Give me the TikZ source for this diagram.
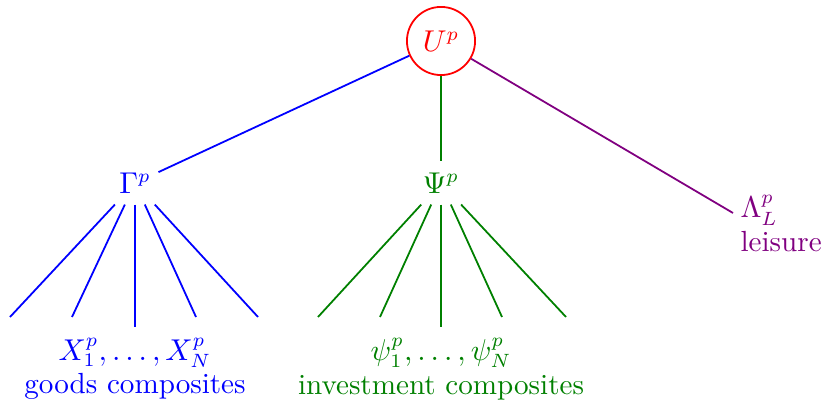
\documentclass[tikz,border=0pt]{standalone}
\usepackage{xcolor}
\definecolor{cblue}{RGB}{0,0,255}
\definecolor{cgreen}{RGB}{0,128,0}
\definecolor{cred}{RGB}{255,0,0}
\definecolor{cpurple}{RGB}{128,0,128}
\begin{document}
\begin{tikzpicture}[x=0.364pt,y=-0.364pt,
  every node/.style={font=\fontsize{10.6}{12.2}\selectfont},
  link/.style={line width=0.65pt},
  inner/.style={inner sep=0pt, minimum width=16.7pt, minimum height=15.3pt},
  leaflab/.style={align=center, inner sep=3.33pt, minimum height=30pt}]
\useasboundingbox (0,0) rectangle (828,407);
% root
\node[circle, draw=cred, text=cred, line width=0.65pt, minimum size=24.8pt, inner sep=0pt] (U) at (441,41) {$U^p$};
% level 1
\node[inner, text=cblue] (G) at (135,183) {$\Gamma^p$};
\node[inner, text=cgreen] (P) at (441,183) {$\Psi^p$};
\node[align=left, text=cpurple, inner sep=0pt, anchor=north west] (L) at (740,195) {$\Lambda_L^p$\\leisure};
\coordinate (Lend) at (733,213);
% level 2 labels
\node[leaflab, text=cblue] (X) at (135,369) {$X_1^p,\dots,X_N^p$\\goods composites};
\node[leaflab, text=cgreen] (S) at (441,369) {$\psi_1^p,\dots,\psi_N^p$\\investment composites};
% leaf ends
\coordinate (g1) at (10,317);
\coordinate (g2) at (72,317);
\coordinate (g4) at (196,317);
\coordinate (g5) at (258,317);
\coordinate (p1) at (318,317);
\coordinate (p2) at (380,317);
\coordinate (p4) at (502,317);
\coordinate (p5) at (566,317);
% edges
\draw[link, cblue] (U) -- (G);
\draw[link, cgreen] (U) -- (P);
\draw[link, cpurple] (U) -- (Lend);
\foreach \t in {g1,g2,g4,g5} \draw[link, cblue] (G) -- (\t);
\draw[link, cblue] (G) -- (X);
\foreach \t in {p1,p2,p4,p5} \draw[link, cgreen] (P) -- (\t);
\draw[link, cgreen] (P) -- (S);
\end{tikzpicture}
\end{document}
